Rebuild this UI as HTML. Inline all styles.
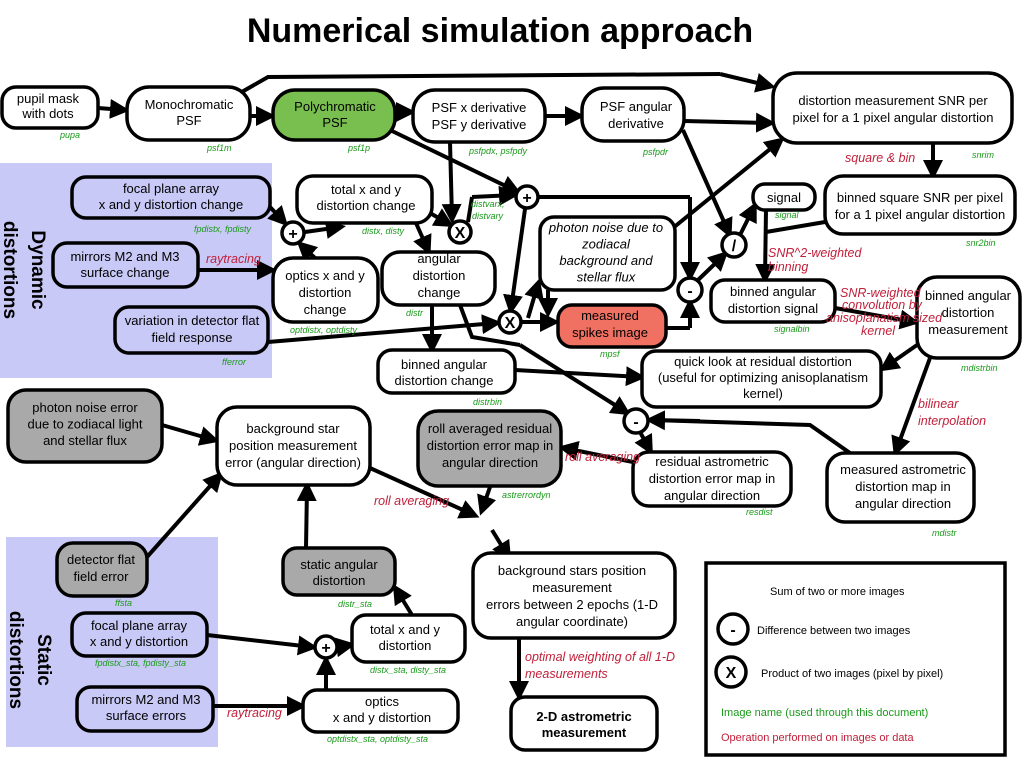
<!DOCTYPE html>
<html><head><meta charset="utf-8"><style>
html,body{margin:0;padding:0;background:#fff;}
svg{display:block;font-family:"Liberation Sans",sans-serif;}
.b{fill:#fff;stroke:#000;stroke-width:3.5;}
.g{fill:#a9a9a9;stroke:#000;stroke-width:3.5;}
.t{font-size:13px;text-anchor:middle;fill:#000;}
.l{stroke:#000;stroke-width:4;fill:none;marker-end:url(#a);}
.n{stroke:#000;stroke-width:4;fill:none;}
.gr{font-size:9px;font-style:italic;fill:#1a9a1a;}
.rd{font-size:12.5px;font-style:italic;fill:#c0203a;}
.c{fill:#fff;stroke:#000;stroke-width:3.5;}
.ct{font-size:16px;font-weight:bold;text-anchor:middle;}
</style></head><body>
<svg width="1024" height="768" viewBox="0 0 1024 768">
<defs><marker id="a" markerWidth="5" markerHeight="5" refX="3.5" refY="2.5" orient="auto" markerUnits="strokeWidth"><path d="M0,0 L5,2.5 L0,5 z" fill="#000"/></marker></defs>
<text x="500" y="42" font-size="34" font-weight="bold" text-anchor="middle">Numerical simulation approach</text>
<rect x="0" y="163" width="272" height="215" fill="#c9c9f8"/>
<rect x="6" y="537" width="212" height="210" fill="#c9c9f8"/>
<text transform="translate(32,270) rotate(90)" font-size="19" font-weight="bold" text-anchor="middle">Dynamic</text>
<text transform="translate(4,270) rotate(90)" font-size="19" font-weight="bold" text-anchor="middle">distortions</text>
<text transform="translate(38,660) rotate(90)" font-size="19" font-weight="bold" text-anchor="middle">Static</text>
<text transform="translate(10,660) rotate(90)" font-size="19" font-weight="bold" text-anchor="middle">distortions</text>

<!-- connectors -->
<path class="n" d="M240,93 L268,77 L720,74"/><path class="l" d="M720,74 L770,86"/>
<path class="l" d="M98,108 L124,110"/>
<path class="l" d="M250,116 L270,116"/>
<path class="l" d="M395,112 L410,112"/>
<path class="l" d="M545,116 L579,116"/>
<path class="l" d="M684,121 L770,123"/>
<path class="l" d="M390,130 L516,191"/>
<path class="l" d="M450,142 L452,218"/>
<path class="l" d="M430,213 L449,224"/>
<path class="n" d="M468,222 L472,197"/><path class="l" d="M472,197 L513,195"/>
<path class="n" d="M539,197 L690,197"/><path class="l" d="M690,197 L690,276"/>
<path class="l" d="M525,209 L511,309"/>
<path class="l" d="M522,322 L554,322"/>
<path class="l" d="M528,318 L538,284"/>
<path class="l" d="M548,290 L548,312"/>
<path class="n" d="M666,328 L690,328"/><path class="l" d="M690,328 L690,304"/>
<path class="l" d="M697,281 L724,255"/>
<path class="l" d="M683,130 L729,233"/>
<path class="l" d="M673,228 L780,141"/>
<path class="l" d="M740,235 L754,207"/>
<path class="l" d="M933,143 L933,174"/>
<path class="l" d="M766,210 L765,278"/>
<path class="n" d="M825,222 L766,232"/>
<path class="l" d="M835,308 L914,322"/>
<path class="l" d="M917,345 L884,368"/>
<path class="l" d="M930,358 L896,451"/>
<path class="n" d="M850,453 L810,425 L652,420"/><path class="l" d="M700,421 L651,420"/>
<path class="l" d="M640,432 L650,450"/>
<path class="l" d="M633,462 L564,448"/>
<path class="l" d="M432,305 L432,348"/>
<path class="l" d="M416,223 L428,250"/>
<path class="l" d="M270,207 L284,222"/>
<path class="l" d="M305,232 L340,227"/>
<path class="l" d="M315,258 L301,245"/>
<path class="l" d="M198,270 L271,270"/>
<path class="l" d="M268,342 L496,323"/>
<path class="n" d="M460,305 L472,337 L520,345"/><path class="l" d="M520,345 L626,412"/>
<path class="l" d="M515,370 L640,377"/>
<path class="l" d="M162,425 L214,440"/>
<path class="l" d="M147,557 L219,476"/>
<path class="l" d="M306,548 L307,487"/>
<path class="l" d="M370,468 L474,515"/>
<path class="l" d="M490,487 L482,510"/>
<path class="l" d="M492,530 L508,556"/>
<path class="l" d="M519,638 L519,695"/>
<path class="l" d="M207,635 L312,647"/>
<path class="l" d="M338,647 L350,645"/>
<path class="l" d="M326,690 L326,661"/>
<path class="l" d="M213,706 L301,706"/>
<path class="l" d="M412,615 L396,589"/>

<!-- boxes -->
<rect class="b" x="2" y="87" width="96" height="41" rx="14"/>
<text class="t" x="48" y="103">pupil mask<tspan x="48" dy="15">with dots</tspan></text>
<rect class="b" x="127" y="87" width="123" height="53" rx="22"/>
<text class="t" x="189" y="109">Monochromatic<tspan x="189" dy="16">PSF</tspan></text>
<rect x="273" y="90" width="122" height="50" rx="22" fill="#79bf4f" stroke="#000" stroke-width="3.5"/>
<text class="t" x="335" y="111">Polychromatic<tspan x="335" dy="16">PSF</tspan></text>
<rect class="b" x="413" y="90" width="132" height="52" rx="22"/>
<text class="t" x="479" y="112">PSF x derivative<tspan x="479" dy="17">PSF y derivative</tspan></text>
<rect class="b" x="582" y="88" width="102" height="53" rx="22"/>
<text class="t" x="636" y="111">PSF angular<tspan x="636" dy="17">derivative</tspan></text>
<rect class="b" x="773" y="73" width="239" height="70" rx="24"/>
<text class="t" x="893" y="105">distortion measurement SNR per<tspan x="893" dy="17">pixel for a 1 pixel angular distortion</tspan></text>
<rect class="b" x="72" y="177" width="198" height="41" rx="14" fill="#c9c9f8" style="fill:#c9c9f8"/>
<text class="t" x="171" y="193">focal plane array<tspan x="171" dy="16">x and y distortion change</tspan></text>
<rect class="b" x="53" y="243" width="145" height="44" rx="14" style="fill:#c9c9f8"/>
<text class="t" x="125" y="261">mirrors M2 and M3<tspan x="125" dy="16">surface change</tspan></text>
<rect class="b" x="115" y="307" width="153" height="46" rx="14" style="fill:#c9c9f8"/>
<text class="t" x="192" y="325">variation in detector flat<tspan x="192" dy="17">field response</tspan></text>
<rect class="b" x="297" y="176" width="135" height="47" rx="16"/>
<text class="t" x="366" y="194">total x and y<tspan x="366" dy="16">distortion change</tspan></text>
<rect class="b" x="382" y="252" width="113" height="53" rx="18"/>
<text class="t" x="439" y="263">angular<tspan x="439" dy="17">distortion</tspan><tspan x="439" dy="17">change</tspan></text>
<rect class="b" x="273" y="258" width="105" height="64" rx="20"/>
<text class="t" x="325" y="280">optics x and y<tspan x="325" dy="17">distortion</tspan><tspan x="325" dy="17">change</tspan></text>
<rect class="b" x="378" y="350" width="137" height="43" rx="14"/>
<text class="t" x="444" y="369">binned angular<tspan x="444" dy="16">distortion change</tspan></text>
<rect class="b" x="540" y="217" width="135" height="73" rx="14"/>
<text class="t" x="606" y="232" font-style="italic">photon noise due to<tspan x="606" dy="16.5">zodiacal</tspan><tspan x="606" dy="16.5">background and</tspan><tspan x="606" dy="16.5">stellar flux</tspan></text>
<rect x="558" y="305" width="108" height="42" rx="14" fill="#f07062" stroke="#000" stroke-width="3.5"/>
<text class="t" x="610" y="320">measured<tspan x="610" dy="17">spikes image</tspan></text>
<rect class="b" x="753" y="184" width="62" height="26" rx="12"/>
<text class="t" x="784" y="202">signal</text>
<rect class="b" x="825" y="176" width="190" height="58" rx="18"/>
<text class="t" x="920" y="202">binned square SNR per pixel<tspan x="920" dy="17">for a 1 pixel angular distortion</tspan></text>
<rect class="b" x="711" y="280" width="124" height="42" rx="14"/>
<text class="t" x="773" y="296">binned angular<tspan x="773" dy="17">distortion signal</tspan></text>
<rect class="b" x="917" y="277" width="103" height="81" rx="20"/>
<text class="t" x="968" y="300">binned angular<tspan x="968" dy="17">distortion</tspan><tspan x="968" dy="17">measurement</tspan></text>
<rect class="b" x="642" y="351" width="239" height="56" rx="14"/>
<text class="t" x="763" y="366">quick look at residual distortion<tspan x="763" dy="16">(useful for optimizing anisoplanatism</tspan><tspan x="763" dy="16">kernel)</tspan></text>
<rect class="g" x="8" y="390" width="154" height="72" rx="18"/>
<text class="t" x="85" y="412">photon noise error<tspan x="85" dy="16.5">due to zodiacal light</tspan><tspan x="85" dy="16.5">and stellar flux</tspan></text>
<rect class="b" x="217" y="407" width="153" height="78" rx="20"/>
<text class="t" x="293" y="433">background star<tspan x="293" dy="17">position measurement</tspan><tspan x="293" dy="17">error (angular direction)</tspan></text>
<rect class="g" x="418" y="411" width="143" height="75" rx="20"/>
<text class="t" x="490" y="433">roll averaged residual<tspan x="490" dy="17">distortion error map in</tspan><tspan x="490" dy="17">angular direction</tspan></text>
<rect class="b" x="633" y="452" width="158" height="54" rx="16"/>
<text class="t" x="712" y="466">residual astrometric<tspan x="712" dy="17">distortion error map in</tspan><tspan x="712" dy="17">angular direction</tspan></text>
<rect class="b" x="827" y="453" width="147" height="69" rx="18"/>
<text class="t" x="903" y="474">measured astrometric<tspan x="903" dy="17">distortion map in</tspan><tspan x="903" dy="17">angular direction</tspan></text>
<rect class="g" x="57" y="543" width="90" height="53" rx="16"/>
<text class="t" x="101" y="564">detector flat<tspan x="101" dy="17">field error</tspan></text>
<rect class="g" x="283" y="548" width="112" height="47" rx="14"/>
<text class="t" x="339" y="569">static angular<tspan x="339" dy="16">distortion</tspan></text>
<rect class="b" x="72" y="613" width="135" height="43" rx="14" style="fill:#c9c9f8"/>
<text class="t" x="139" y="630">focal plane array<tspan x="139" dy="16">x and y distortion</tspan></text>
<rect class="b" x="352" y="615" width="113" height="47" rx="14"/>
<text class="t" x="405" y="634">total x and y<tspan x="405" dy="16">distortion</tspan></text>
<rect class="b" x="77" y="687" width="136" height="44" rx="14" style="fill:#c9c9f8"/>
<text class="t" x="146" y="704">mirrors M2 and M3<tspan x="146" dy="16">surface errors</tspan></text>
<rect class="b" x="303" y="690" width="155" height="42" rx="14"/>
<text class="t" x="382" y="706">optics<tspan x="382" dy="16">x and y distortion</tspan></text>
<rect class="b" x="473" y="553" width="202" height="85" rx="18"/>
<text class="t" x="572" y="575">background stars position<tspan x="572" dy="17">measurement</tspan><tspan x="572" dy="17">errors between 2 epochs (1-D</tspan><tspan x="572" dy="17">angular coordinate)</tspan></text>
<rect class="b" x="511" y="697" width="146" height="53" rx="14"/>
<text class="t" x="584" y="721" font-weight="bold">2-D astrometric<tspan x="584" dy="16">measurement</tspan></text>

<!-- circles -->
<circle class="c" cx="293" cy="233" r="11"/><text class="ct" x="293" y="239">+</text>
<circle class="c" cx="460" cy="232" r="11"/><text class="ct" x="460" y="238" font-weight="normal">X</text>
<circle class="c" cx="527" cy="197" r="11"/><text class="ct" x="527" y="203">+</text>
<circle class="c" cx="510" cy="322" r="11"/><text class="ct" x="510" y="328" font-weight="normal">X</text>
<circle class="c" cx="690" cy="290" r="12"/><text class="ct" x="690" y="296">-</text>
<circle class="c" cx="734" cy="245" r="12"/><text class="ct" x="734" y="251">/</text>
<circle class="c" cx="636" cy="421" r="12"/><text class="ct" x="636" y="427">-</text>
<circle class="c" cx="326" cy="647" r="11"/><text class="ct" x="326" y="653">+</text>

<!-- green labels -->
<text class="gr" x="60" y="138">pupa</text>
<text class="gr" x="207" y="151">psf1m</text>
<text class="gr" x="348" y="151">psf1p</text>
<text class="gr" x="469" y="154">psfpdx, psfpdy</text>
<text class="gr" x="643" y="155">psfpdr</text>
<text class="gr" x="972" y="158">snrim</text>
<text class="gr" x="194" y="232">fpdistx, fpdisty</text>
<text class="gr" x="362" y="234">distx, disty</text>
<text class="gr" x="471" y="207">distvarx,</text><text class="gr" x="472" y="219">distvary</text>
<text class="gr" x="775" y="218">signal</text>
<text class="gr" x="966" y="246">snr2bin</text>
<text class="gr" x="406" y="316">distr</text>
<text class="gr" x="290" y="333">optdistx, optdisty</text>
<text class="gr" x="774" y="332">signalbin</text>
<text class="gr" x="600" y="357">mpsf</text>
<text class="gr" x="222" y="365">fferror</text>
<text class="gr" x="961" y="371">mdistrbin</text>
<text class="gr" x="473" y="405">distrbin</text>
<text class="gr" x="502" y="498">astrerrordyn</text>
<text class="gr" x="746" y="515">resdist</text>
<text class="gr" x="932" y="536">mdistr</text>
<text class="gr" x="115" y="606">ffsta</text>
<text class="gr" x="338" y="607">distr_sta</text>
<text class="gr" x="95" y="666">fpdistx_sta, fpdisty_sta</text>
<text class="gr" x="370" y="673">distx_sta, disty_sta</text>
<text class="gr" x="327" y="742">optdistx_sta, optdisty_sta</text>

<!-- red labels -->
<text class="rd" x="206" y="263">raytracing</text>
<text class="rd" x="845" y="162">square &amp; bin</text>
<text class="rd" x="768" y="257" font-size="11">SNR^2-weighted</text>
<text class="rd" x="768" y="271" font-size="11">binning</text>
<text class="rd" x="840" y="297" font-size="9.5">SNR-weighted</text>
<text class="rd" x="842" y="309" font-size="9.5">convolution by</text>
<text class="rd" x="826" y="322" font-size="9.5">anisoplanatism sized</text>
<text class="rd" x="861" y="335" font-size="9.5">kernel</text>
<text class="rd" x="918" y="408">bilinear</text>
<text class="rd" x="918" y="425">interpolation</text>
<text class="rd" x="565" y="461" font-size="10">roll averaging</text>
<text class="rd" x="374" y="505">roll averaging</text>
<text class="rd" x="525" y="661">optimal weighting of all 1-D</text>
<text class="rd" x="525" y="678">measurements</text>
<text class="rd" x="227" y="717">raytracing</text>

<!-- legend -->
<rect x="706" y="563" width="299" height="192" fill="#fff" stroke="#000" stroke-width="3.5"/>
<text x="770" y="595" font-size="11">Sum of two or more images</text>
<circle class="c" cx="733" cy="629" r="15"/><text class="ct" x="733" y="635">-</text>
<text x="757" y="634" font-size="11">Difference between two images</text>
<circle class="c" cx="731" cy="672" r="15"/><text class="ct" x="731" y="678" font-weight="normal">X</text>
<text x="761" y="677" font-size="11">Product of two images (pixel by pixel)</text>
<text x="721" y="716" font-size="11" fill="#1a9a1a">Image name (used through this document)</text>
<text x="721" y="741" font-size="11" fill="#c0203a">Operation performed on images or data</text>
</svg>
</body></html>
